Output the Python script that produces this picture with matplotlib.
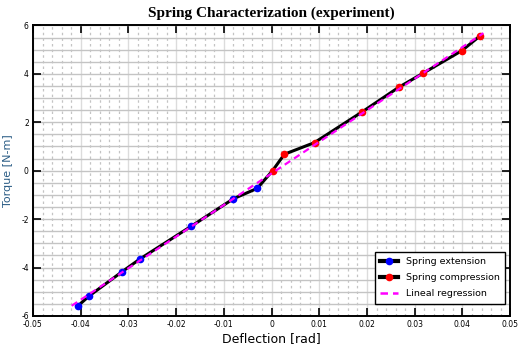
"""Spring characterization plot: torque vs deflection."""
import numpy as np
import matplotlib; matplotlib.use("Agg")
import matplotlib.pyplot as plt
from matplotlib.ticker import MultipleLocator

# ── data ─────────────────────────────────────────────────────────────
ext_defl = [-0.0406, -0.0382, -0.0313, -0.0276, -0.0168, -0.0080, -0.0030]
ext_torque = [-5.59, -5.17, -4.17, -3.65, -2.29, -1.16, -0.73]

comp_defl = [0.0002, 0.0027, 0.0090, 0.0190, 0.0267, 0.0318, 0.0399, 0.0437]
comp_torque = [0.00, 0.68, 1.16, 2.43, 3.45, 4.03, 4.96, 5.57]

reg_defl = [-0.0419, 0.0444]
reg_torque = [-5.58, 5.68]

xticks = [-0.05, -0.04, -0.03, -0.02, -0.01, 0, 0.01, 0.02, 0.03, 0.04, 0.05]
xtick_labels = ["-0.05", "-0.04", "-0.03", "-0.02", "-0.01", "0",
                "0.01", "0.02", "0.03", "0.04", "0.05"]
yticks = [-6, -4, -2, 0, 2, 4, 6]

fig = plt.figure(figsize=(5.27, 3.53), dpi=100)
ax = fig.add_axes([0.0626, 0.105, 0.9054, 0.823])

# connect extension -> compression with the black line
ax.plot(ext_defl + comp_defl[:1], ext_torque + comp_torque[:1], color="black", lw=2.2, zorder=3)
ax.plot(comp_defl, comp_torque, color="black", lw=2.2, zorder=3)
ax.plot(ext_defl, ext_torque, ls="none", marker="o", ms=4.5, color="blue", zorder=4)
ax.plot(comp_defl, comp_torque, ls="none", marker="o", ms=4.5, color="red", zorder=4)
ax.plot(reg_defl, reg_torque, color="magenta", lw=1.6, ls=(0, (3, 2)), zorder=5)

# legend proxies
ax.plot([], [], color="black", lw=3, marker="o", ms=4.5, mfc="blue", mec="blue",
        label="Spring extension")
ax.plot([], [], color="black", lw=3, marker="o", ms=4.5, mfc="red", mec="red",
        label="Spring compression")
ax.plot([], [], color="magenta", lw=1.8, ls=(0, (3, 2)), label="Lineal regression")

ax.set_xticks(xticks)
ax.set_xticklabels(xtick_labels)
ax.set_yticks(yticks)
ax.set_yticklabels([str(v) for v in yticks])
ax.xaxis.set_minor_locator(MultipleLocator(0.002))
ax.yaxis.set_minor_locator(MultipleLocator(0.5))
ax.set_xlim(-0.05, 0.05)
ax.set_ylim(-6, 6)

# grid
ax.grid(which="major", axis="x", color="#dcdcdc", lw=1.0, ls="-")
ax.grid(which="minor", axis="x", color="#c4c4c4", lw=0.9, ls=(0, (2, 2.5)))
ax.grid(which="both", axis="y", color="#c4c4c4", lw=1.0, ls="-")
ax.set_axisbelow(True)

ax.tick_params(which="major", direction="in", length=6, width=1.2, top=True, right=True,
               labelsize=5.5, pad=3)
ax.tick_params(which="minor", length=0)
for lab in ax.get_xticklabels() + ax.get_yticklabels():
    lab.set_family(["Liberation Sans Narrow", "DejaVu Sans"])
for sp in ax.spines.values():
    sp.set_linewidth(1.4)

ax.set_title("Spring Characterization (experiment)", family="Liberation Serif",
             fontweight="bold", fontsize=11, pad=6)
ax.set_xlabel("Deflection [rad]", fontsize=9, labelpad=2)
ax.set_ylabel("Torque [N-m]", fontsize=8, color="#2b5d86", labelpad=6)

leg = ax.legend(loc="lower right", fontsize=6.8, frameon=True, fancybox=False,
                edgecolor="black", framealpha=1, handlelength=1.9,
                borderaxespad=0, labelspacing=0.75, borderpad=0.6,
                bbox_to_anchor=(0.99, 0.041))
leg.get_frame().set_linewidth(1.0)

fig.savefig("out.png", dpi=100, facecolor="white")
